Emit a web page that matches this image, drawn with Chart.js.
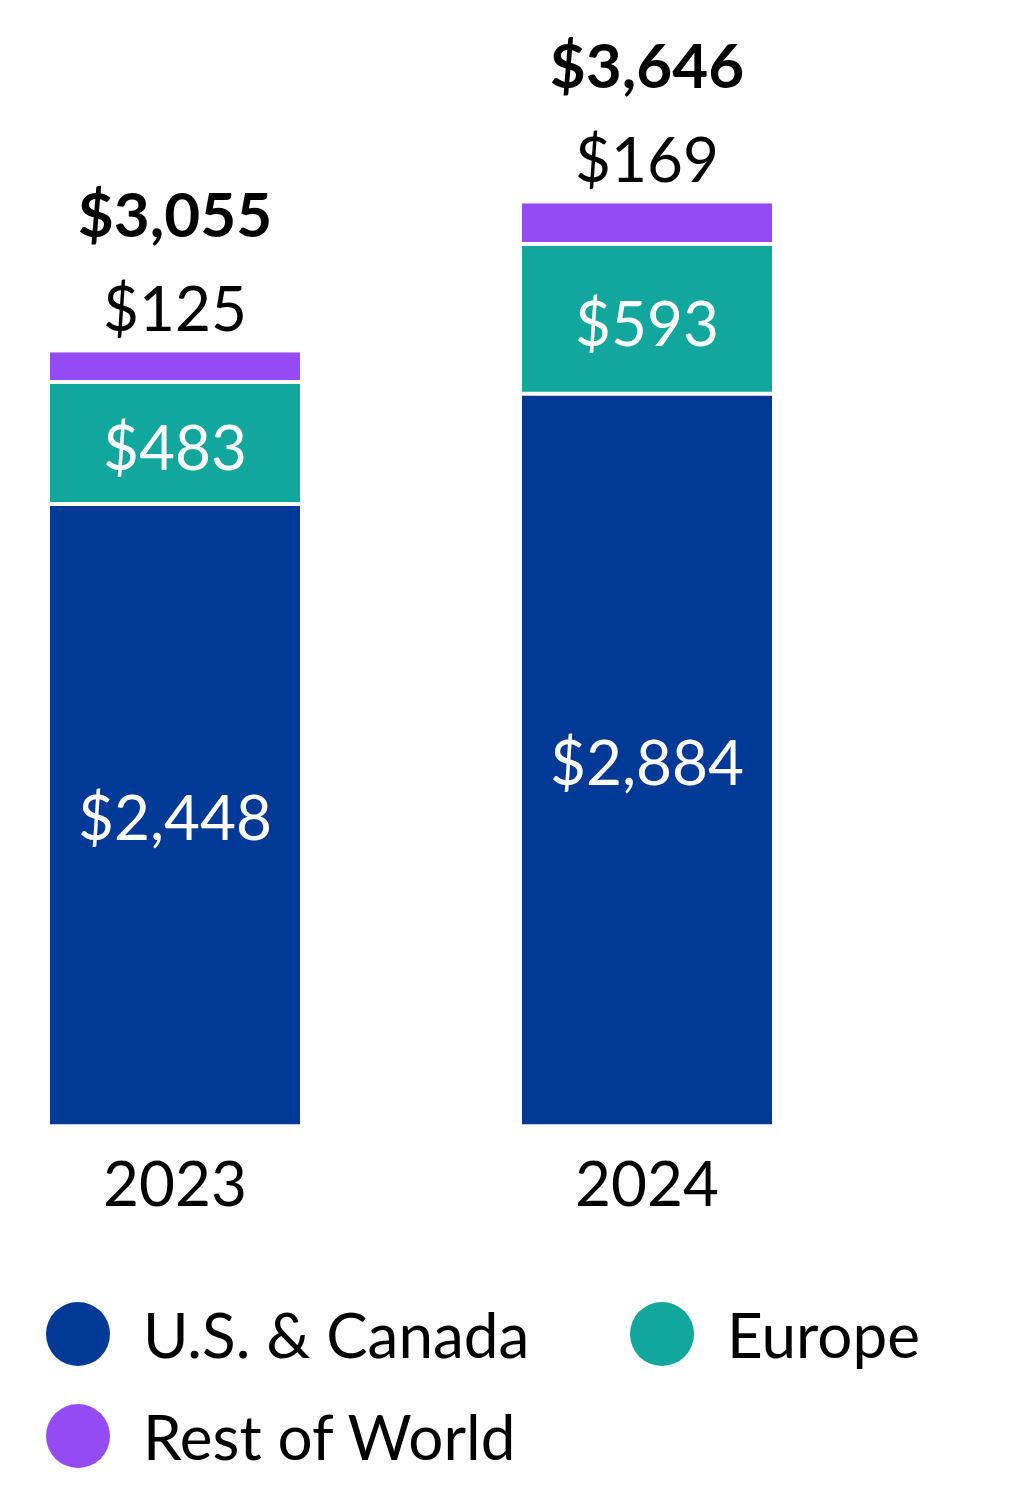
<!DOCTYPE html>
<html>
<head>
<meta charset="utf-8">
<script src="https://cdn.jsdelivr.net/npm/chart.js@4.4.1/dist/chart.umd.min.js"></script>
<style>
  html, body { margin: 0; padding: 0; background: #fff; }
  body { width: 1026px; height: 1507px; overflow: hidden; position: relative; font-family: Lato, sans-serif; }
  #chartBox { position: absolute; left: -61px; top: 0; width: 944px; height: 1239px; }
  .legend-item { position: absolute; display: flex; align-items: center; height: 64px; font-size: 62px; line-height: 64px; color: #000; white-space: nowrap; }
  .legend-dot { width: 64px; height: 64px; border-radius: 50%; margin-right: 33px; flex: none; }
</style>
</head>
<body>
<div id="chartBox"><canvas id="regionChart"></canvas></div>
<div id="legend"></div>

<script>
const years = ['2023', '2024'];
const usCanada = [2448, 2884];
const europe = [483, 593];
const restOfWorld = [125, 169];
const totals = [3055, 3646];

const seriesNames = ['U.S. & Canada', 'Europe', 'Rest of World'];
const colors = ['#003A96', '#12A79D', '#944BF4'];

const FONT = 'Lato';
const fmt = v => '$' + v.toLocaleString('en-US');

// legend spots (html, the chart itself has no legend)
const legendSpots = [
  { left: 46, top: 1302 },
  { left: 630, top: 1302 },
  { left: 46, top: 1404 }
];

function buildLegend() {
  const box = document.getElementById('legend');
  seriesNames.forEach((name, i) => {
    const item = document.createElement('div');
    item.className = 'legend-item';
    item.style.left = legendSpots[i].left + 'px';
    item.style.top = legendSpots[i].top + 'px';
    item.innerHTML = '<span class="legend-dot" style="background:' + colors[i] + '"></span><span>' + name + '</span>';
    box.appendChild(item);
  });
}

const valueLabels = {
  id: 'valueLabels',
  afterDatasetsDraw(chart) {
    const ctx = chart.ctx;
    ctx.save();
    ctx.textAlign = 'center';
    ctx.textBaseline = 'middle';

    chart.data.datasets.forEach((ds, di) => {
      const meta = chart.getDatasetMeta(di);
      meta.data.forEach((bar, i) => {
        const v = ds.data[i];
        if (di < 2) {
          ctx.fillStyle = '#fff';
          ctx.font = '62px ' + FONT;
          ctx.fillText(fmt(v), bar.x, (bar.y + bar.base) / 2 + 5);
        } else {
          ctx.fillStyle = '#000';
          ctx.font = '62px ' + FONT;
          ctx.fillText(fmt(v), bar.x, bar.y - 41);
          ctx.font = 'bold 62px ' + FONT;
          ctx.fillText(fmt(totals[i]), bar.x, bar.y - 135);
        }
      });
    });
    ctx.restore();
  }
};

function initChart() {
  const ctx = document.getElementById('regionChart').getContext('2d');
  const sep = { top: 0, left: 0, right: 0, bottom: 4 };

  new Chart(ctx, {
    type: 'bar',
    data: {
      labels: years,
      datasets: [
        { label: seriesNames[0], data: usCanada, backgroundColor: colors[0], borderWidth: 0 },
        { label: seriesNames[1], data: europe, backgroundColor: colors[1], borderColor: '#fff', borderWidth: sep, borderSkipped: false },
        { label: seriesNames[2], data: restOfWorld, backgroundColor: colors[2], borderColor: '#fff', borderWidth: sep, borderSkipped: false }
      ]
    },
    options: {
      responsive: true,
      maintainAspectRatio: false,
      animation: false,
      layout: { padding: 0 },
      datasets: {
        bar: { barPercentage: 1, categoryPercentage: 250 / 472 }
      },
      plugins: {
        legend: { display: false },
        tooltip: { enabled: false }
      },
      scales: {
        x: {
          stacked: true,
          grid: { display: false },
          border: { display: false },
          ticks: { color: '#000', font: { family: FONT, size: 62 }, padding: 16 }
        },
        y: {
          stacked: true,
          display: false,
          min: 0,
          max: 4450
        }
      }
    },
    plugins: [valueLabels]
  });
}

document.addEventListener('DOMContentLoaded', () => {
  buildLegend();
  const go = () => initChart();
  if (document.fonts && document.fonts.load) {
    Promise.all([
      document.fonts.load('62px Lato'),
      document.fonts.load('bold 62px Lato')
    ]).then(go, go);
  } else {
    go();
  }
});
</script>
</body>
</html>
